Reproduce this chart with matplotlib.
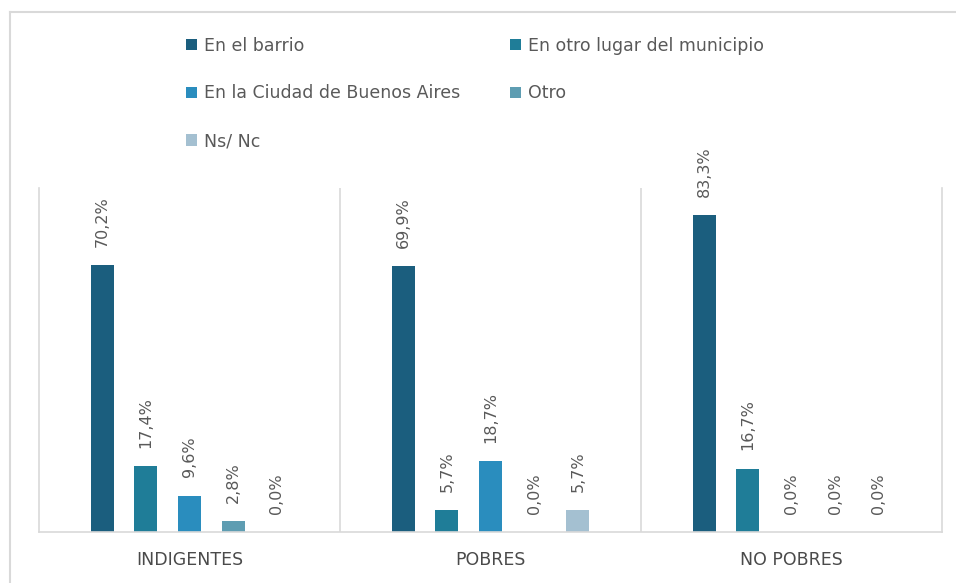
import matplotlib.pyplot as plt
import numpy as np
from matplotlib.lines import Line2D

# datos
grupos = ["INDIGENTES", "POBRES", "NO POBRES"]
series = ["En el barrio", "En otro lugar del municipio",
          "En la Ciudad de Buenos Aires", "Otro", "Ns/ Nc"]
en_barrio = [70.2, 69.9, 83.3]
otro_lugar = [17.4, 5.7, 16.7]
ciudad_ba = [9.6, 18.7, 0.0]
otro = [2.8, 0.0, 0.0]
ns_nc = [0.0, 5.7, 0.0]
colores = ["#1B5E7E", "#1F7D98", "#2A8DBE", "#5E9DB2", "#A4C0D1"]

valores = [en_barrio, otro_lugar, ciudad_ba, otro, ns_nc]

fig = plt.figure(figsize=(9.56, 5.83), dpi=100)
ax = fig.add_axes([39 / 956, 1 - 532 / 583, 903 / 956, 344 / 583])

x = np.arange(len(grupos))
paso = 0.145
ancho = 0.077
gris = "#D9D9D9"
texto = "#595959"

barras = []
for i, (vals, col) in enumerate(zip(valores, colores)):
    b = ax.bar(x + (i - 2) * paso, vals, width=ancho, color=col, label=series[i])
    barras.append(b)
    etiquetas = [f"{v:.1f}%".replace(".", ",") for v in vals]
    ax.bar_label(b, labels=etiquetas, rotation=90, padding=13,
                 fontsize=11.5, color=texto)

ax.set_xlim(-0.5, 2.5)
ax.set_ylim(0, 90.5)
ax.set_yticks([])
ax.set_xticks(x)
ax.set_xticklabels(grupos, fontsize=12.5, color="#4A4A4A")
ax.tick_params(axis="x", length=0, pad=14)

for lado in ["left", "right", "bottom"]:
    ax.spines[lado].set_color(gris)
    ax.spines[lado].set_linewidth(1.2)
ax.spines["top"].set_visible(False)
for sep in [0.5, 1.5]:
    ax.axvline(sep, color=gris, lw=1.2)

# leyenda (orden en filas)
orden = [0, 2, 4, 1, 3]
fig.legend([barras[i] for i in orden], [series[i] for i in orden],
           loc="upper left", bbox_to_anchor=(170 / 956, 1 - 21 / 583),
           ncol=2, frameon=False, fontsize=12.5, labelcolor=texto,
           handlelength=0.65, handleheight=0.65, handletextpad=0.4,
           columnspacing=2.85, labelspacing=1.72)

# marco exterior
fig.add_artist(Line2D([10 / 956, 1], [1 - 12 / 583, 1 - 12 / 583],
                      transform=fig.transFigure, color=gris, lw=1.5))
fig.add_artist(Line2D([10 / 956, 10 / 956], [0, 1 - 12 / 583],
                      transform=fig.transFigure, color=gris, lw=1.5))

fig.savefig("out.png", dpi=100)
